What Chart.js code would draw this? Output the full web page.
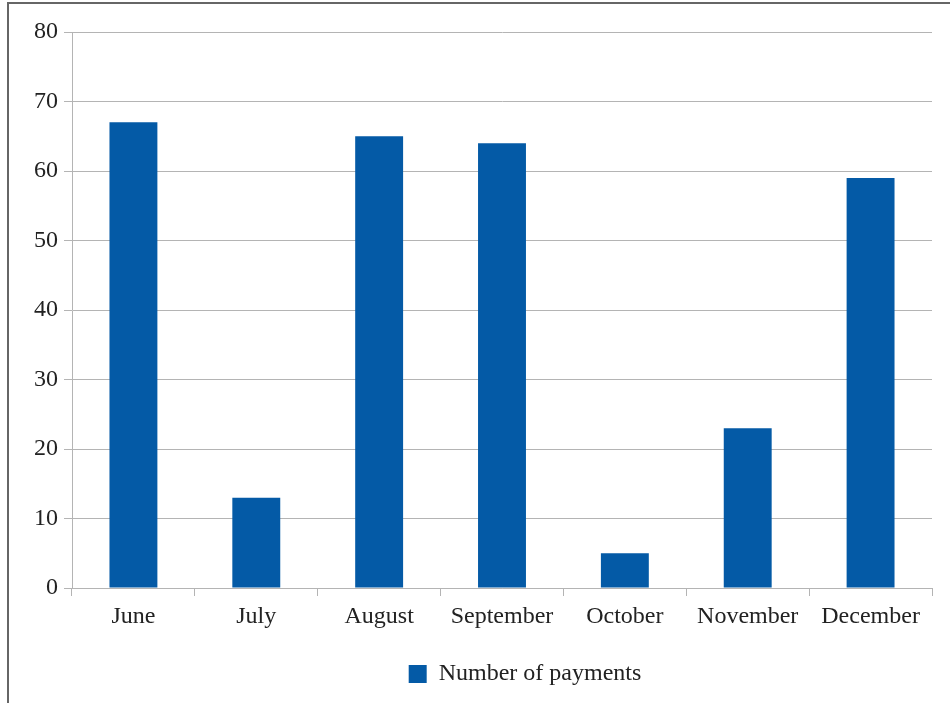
<!DOCTYPE html>
<html>
<head>
<meta charset="utf-8">
<script src="https://cdn.jsdelivr.net/npm/chart.js@4/dist/chart.umd.min.js"></script>
<style>
  html, body { margin: 0; padding: 0; background: #fff; }
  #wrap { position: relative; width: 950px; height: 703px; }
  #frame { position: absolute; left: 7px; top: 2px; width: 960px; height: 720px; border-left: 2px solid #666; border-top: 2px solid #666; pointer-events: none; }
  canvas { position: absolute; left: 0; top: 0; }
</style>
</head>
<body>
<div id="wrap">
  <canvas id="c" width="950" height="703"></canvas>
  <div id="frame"></div>
</div>
<script>
const categories = ["June", "July", "August", "September", "October", "November", "December"];
const seriesName = "Number of payments";
const paymentCounts = [67, 13, 65, 64, 5, 23, 59];
const yTicks = [0, 10, 20, 30, 40, 50, 60, 70, 80];

const fontSpec = { family: "'Liberation Serif', 'Times New Roman', serif", size: 24 };
const textColor = "#222";
const gridColor = "#b4b4b4";

const legendShift = {
  id: "legendShift",
  afterLayout(chart) {
    const lg = chart.legend;
    if (!lg) return;
    const center = (lg.left + lg.right) / 2;
    const dx = 525 - center;
    lg.left += dx;
    lg.right += dx;
  }
};

new Chart(document.getElementById("c"), {
  type: "bar",
  data: {
    labels: categories,
    datasets: [{
      label: seriesName,
      data: paymentCounts,
      backgroundColor: "#045aa6",
      borderWidth: 0,
      categoryPercentage: 1.0,
      barPercentage: 0.39
    }]
  },
  plugins: [legendShift],
  options: {
    responsive: false,
    animation: false,
    layout: { padding: { left: 0, right: 18, top: 32, bottom: 7 } },
    plugins: {
      tooltip: { enabled: false },
      legend: {
        position: "bottom",
        labels: {
          font: fontSpec,
          color: textColor,
          boxWidth: 18,
          boxHeight: 18,
          padding: 5
        }
      }
    },
    scales: {
      x: {
        grid: { display: true, drawOnChartArea: false, drawTicks: true, tickLength: 8, color: gridColor, offset: true },
        border: { display: true, color: gridColor, width: 1 },
        ticks: { font: fontSpec, color: textColor, padding: 6, maxRotation: 0 },
        afterFit: (s) => { s.height = 69; }
      },
      y: {
        min: 0,
        max: 80,
        afterBuildTicks: (s) => { s.ticks = yTicks.map(v => ({ value: v })); },
        grid: { color: gridColor, tickLength: 8, drawTicks: true },
        border: { display: true, color: gridColor, width: 1 },
        ticks: { font: fontSpec, color: textColor, padding: 6 },
        afterFit: (s) => { s.width = 72; }
      }
    }
  }
});
</script>
</body>
</html>
